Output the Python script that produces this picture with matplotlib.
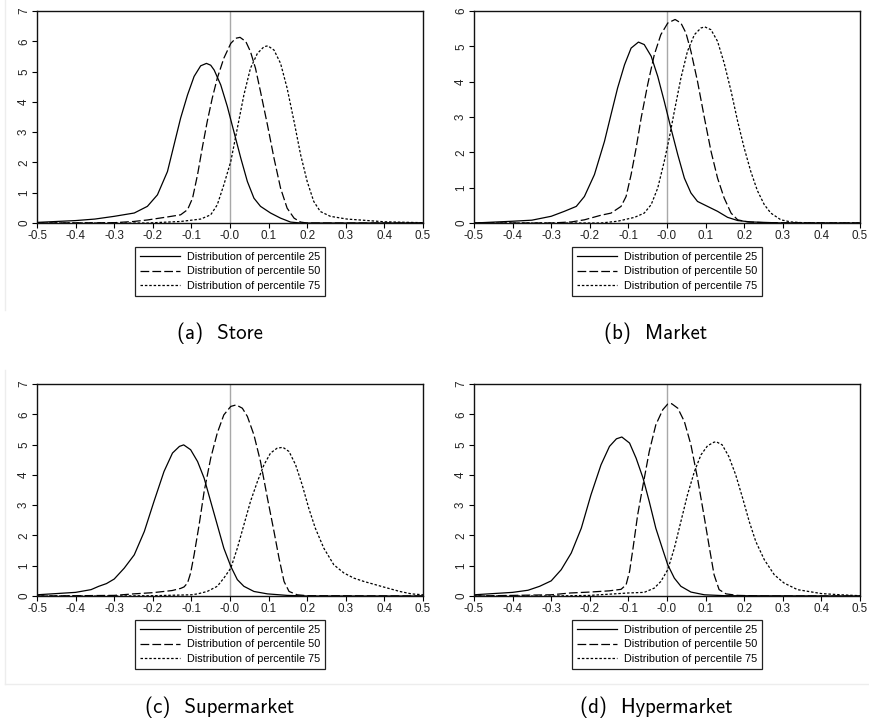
import matplotlib
matplotlib.use("Agg")
import matplotlib.pyplot as plt
from matplotlib.lines import Line2D
import numpy as np

# (a) Store
a_x25 = [-0.5, -0.4, -0.35, -0.3, -0.248, -0.214, -0.188, -0.162, -0.145, -0.128, -0.11, -0.093, -0.076, -0.061,
         -0.05, -0.041, -0.024, -0.007, 0.01, 0.028, 0.045, 0.062, 0.079, 0.105, 0.131, 0.157, 0.183, 0.25, 0.5]
a_y25 = [0.02, 0.08, 0.13, 0.22, 0.33, 0.55, 0.93, 1.7, 2.58, 3.46, 4.23, 4.84, 5.19, 5.27,
         5.21, 5.05, 4.56, 3.85, 3.02, 2.14, 1.37, 0.82, 0.55, 0.33, 0.16, 0.03, 0.0, 0.0, 0.0]
a_x50 = [-0.5, -0.3, -0.25, -0.214, -0.162, -0.128, -0.11, -0.097, -0.084, -0.072, -0.059, -0.046, -0.033, -0.016,
         0.002, 0.015, 0.026, 0.041, 0.053, 0.066, 0.079, 0.097, 0.114, 0.131, 0.148, 0.166, 0.183, 0.2, 0.5]
a_y50 = [0.0, 0.01, 0.05, 0.1, 0.2, 0.27, 0.44, 0.82, 1.6, 2.47, 3.35, 4.12, 4.78, 5.44,
         5.93, 6.1, 6.13, 5.99, 5.66, 5.11, 4.34, 3.24, 2.14, 1.15, 0.49, 0.16, 0.03, 0.0, 0.0]
a_x75 = [-0.5, -0.214, -0.128, -0.076, -0.05, -0.033, -0.016, 0.002, 0.019, 0.036, 0.053, 0.071, 0.088, 0.098,
         0.114, 0.131, 0.148, 0.166, 0.183, 0.2, 0.217, 0.234, 0.26, 0.303, 0.347, 0.4, 0.5]
a_y75 = [0.0, 0.0, 0.05, 0.13, 0.27, 0.6, 1.26, 2.03, 3.13, 4.23, 5.11, 5.6, 5.82, 5.85,
         5.71, 5.27, 4.45, 3.35, 2.25, 1.37, 0.71, 0.38, 0.22, 0.13, 0.09, 0.04, 0.01]

# (b) Market
b_x25 = [-0.5, -0.4, -0.35, -0.3, -0.266, -0.235, -0.214, -0.188, -0.162, -0.145, -0.128, -0.11, -0.093, -0.074,
         -0.059, -0.041, -0.024, -0.007, 0.01, 0.028, 0.045, 0.062, 0.079, 0.105, 0.131, 0.157, 0.183, 0.217, 0.3, 0.5]
b_y25 = [0.0, 0.05, 0.08, 0.19, 0.33, 0.47, 0.75, 1.37, 2.31, 3.07, 3.82, 4.48, 4.95, 5.12,
         5.05, 4.72, 4.15, 3.44, 2.69, 1.93, 1.27, 0.85, 0.61, 0.47, 0.33, 0.16, 0.07, 0.03, 0.0, 0.0]
b_x50 = [-0.5, -0.3, -0.248, -0.214, -0.171, -0.145, -0.119, -0.106, -0.093, -0.08, -0.067, -0.05, -0.033, -0.016,
         0.002, 0.021, 0.036, 0.049, 0.062, 0.079, 0.097, 0.114, 0.131, 0.148, 0.166, 0.183, 0.209, 0.25, 0.5]
b_y50 = [0.0, 0.0, 0.03, 0.09, 0.22, 0.28, 0.47, 0.75, 1.37, 2.12, 2.97, 3.92, 4.76, 5.33,
         5.66, 5.76, 5.66, 5.38, 4.86, 4.01, 2.97, 2.03, 1.27, 0.71, 0.28, 0.09, 0.03, 0.01, 0.0]
b_x75 = [-0.5, -0.171, -0.128, -0.084, -0.059, -0.041, -0.024, -0.007, 0.006, 0.019, 0.036, 0.053, 0.071, 0.088,
         0.098, 0.114, 0.131, 0.148, 0.166, 0.183, 0.2, 0.217, 0.234, 0.252, 0.269, 0.295, 0.321, 0.35, 0.4, 0.5]
b_y75 = [0.0, 0.0, 0.05, 0.16, 0.28, 0.52, 0.99, 1.75, 2.41, 3.16, 4.1, 4.86, 5.33, 5.52,
         5.55, 5.47, 5.14, 4.53, 3.73, 2.88, 2.12, 1.46, 0.92, 0.52, 0.28, 0.09, 0.03, 0.01, 0.0, 0.0]

# (c) Supermarket
c_x25 = [-0.5, -0.45, -0.4, -0.36, -0.34, -0.32, -0.3, -0.274, -0.248, -0.222, -0.197, -0.171, -0.149, -0.131,
         -0.12, -0.102, -0.084, -0.067, -0.05, -0.033, -0.016, 0.002, 0.019, 0.036, 0.062, 0.097, 0.148, 0.2, 0.5]
c_y25 = [0.04, 0.08, 0.12, 0.21, 0.32, 0.41, 0.56, 0.92, 1.36, 2.13, 3.12, 4.11, 4.72, 4.94,
         4.99, 4.83, 4.44, 3.89, 3.12, 2.35, 1.58, 0.98, 0.54, 0.32, 0.15, 0.07, 0.02, 0.0, 0.0]
c_x50 = [-0.5, -0.3, -0.25, -0.2, -0.15, -0.128, -0.119, -0.11, -0.102, -0.093, -0.08, -0.067, -0.05, -0.033,
         -0.016, 0.002, 0.016, 0.032, 0.045, 0.062, 0.079, 0.097, 0.114, 0.127, 0.14, 0.153, 0.174, 0.2, 0.5]
c_y50 = [0.0, 0.02, 0.07, 0.11, 0.18, 0.25, 0.3, 0.43, 0.76, 1.36, 2.35, 3.45, 4.55, 5.38,
         5.98, 6.26, 6.31, 6.2, 5.93, 5.32, 4.44, 3.23, 2.13, 1.25, 0.48, 0.15, 0.04, 0.01, 0.0]
c_x75 = [-0.5, -0.3, -0.2, -0.1, -0.084, -0.059, -0.033, -0.016, 0.002, 0.019, 0.036, 0.053, 0.071, 0.088,
         0.105, 0.122, 0.137, 0.153, 0.17, 0.187, 0.204, 0.221, 0.243, 0.269, 0.295, 0.321, 0.347, 0.4, 0.44, 0.47, 0.5]
c_y75 = [0.0, 0.0, 0.01, 0.04, 0.07, 0.15, 0.32, 0.59, 0.92, 1.58, 2.35, 3.12, 3.78, 4.33,
         4.72, 4.88, 4.91, 4.77, 4.33, 3.67, 2.9, 2.24, 1.58, 1.03, 0.76, 0.59, 0.48, 0.29, 0.15, 0.07, 0.04]

# (d) Hypermarket
d_x25 = [-0.5, -0.45, -0.4, -0.36, -0.33, -0.3, -0.274, -0.248, -0.222, -0.197, -0.171, -0.149, -0.131, -0.117,
         -0.097, -0.08, -0.062, -0.046, -0.029, -0.011, 0.002, 0.019, 0.036, 0.062, 0.097, 0.15, 0.5]
d_y25 = [0.04, 0.08, 0.12, 0.19, 0.32, 0.5, 0.87, 1.42, 2.24, 3.34, 4.33, 4.94, 5.19, 5.25,
         5.05, 4.55, 3.89, 3.12, 2.24, 1.53, 1.03, 0.59, 0.32, 0.13, 0.04, 0.01, 0.0]
d_x50 = [-0.5, -0.3, -0.25, -0.2, -0.15, -0.119, -0.106, -0.097, -0.088, -0.076, -0.062, -0.046, -0.029, -0.011,
         0.002, 0.012, 0.028, 0.045, 0.062, 0.079, 0.097, 0.11, 0.122, 0.135, 0.153, 0.183, 0.25, 0.5]
d_y50 = [0.0, 0.04, 0.1, 0.13, 0.17, 0.22, 0.37, 0.81, 1.58, 2.68, 3.67, 4.77, 5.65, 6.15,
         6.34, 6.35, 6.2, 5.76, 4.99, 3.89, 2.57, 1.58, 0.7, 0.21, 0.07, 0.02, 0.0, 0.0]
d_x75 = [-0.5, -0.3, -0.2, -0.1, -0.059, -0.033, -0.016, 0.002, 0.019, 0.036, 0.053, 0.071, 0.088, 0.105,
         0.122, 0.128, 0.143, 0.16, 0.178, 0.196, 0.213, 0.23, 0.252, 0.278, 0.303, 0.338, 0.4, 0.45, 0.5]
d_y75 = [0.0, 0.0, 0.02, 0.1, 0.12, 0.26, 0.48, 0.87, 1.58, 2.46, 3.34, 4.11, 4.66, 4.96,
         5.08, 5.09, 4.99, 4.61, 4.0, 3.23, 2.46, 1.8, 1.2, 0.7, 0.43, 0.21, 0.08, 0.04, 0.01]

captions = ["(a)  Store", "(b)  Market", "(c)  Supermarket", "(d)  Hypermarket"]
ymax = [7, 6, 7, 7]
labels = ["Distribution of percentile 25", "Distribution of percentile 50", "Distribution of percentile 75"]
xticks = np.arange(-0.5, 0.51, 0.1)

panels = [
    [(a_x25, a_y25), (a_x50, a_y50), (a_x75, a_y75)],
    [(b_x25, b_y25), (b_x50, b_y50), (b_x75, b_y75)],
    [(c_x25, c_y25), (c_x50, c_y50), (c_x75, c_y75)],
    [(d_x25, d_y25), (d_x50, d_y50), (d_x75, d_y75)],
]

W, H = 870, 723
fig = plt.figure(figsize=(W / 100, H / 100), dpi=100)

# axes boxes in pixels: left, top, right, bottom
boxes = [(37, 11, 423, 223), (474, 11, 860, 223), (37, 384, 423, 596), (474, 384, 860, 596)]
cap_pos = [(220, 333), (656, 333), (220, 707), (656, 707)]
styles = ["-", (0, (7, 2.5)), (0, (2, 1.5))]

tickfont = "Liberation Sans"

for i, curves in enumerate(panels):
    l, t, r, b = boxes[i]
    ax = fig.add_axes([l / W, 1 - b / H, (r - l) / W, (b - t) / H])
    ax.axvline(0, color="#a8a8a8", lw=1.0, zorder=1)
    for j, (xs, ys) in enumerate(curves):
        ax.plot(xs, ys, color="black", lw=0.9, linestyle=styles[j], label=labels[j], zorder=2)
    ax.set_xlim(-0.5, 0.5)
    ax.set_ylim(0, ymax[i])
    ax.set_xticks(xticks)
    ax.set_xticklabels(["%.1f" % v for v in xticks], family=tickfont, fontsize=8.4, color="#222222")
    ax.set_yticks(range(ymax[i] + 1))
    ax.set_yticklabels([str(v) for v in range(ymax[i] + 1)], family=tickfont, fontsize=8.4,
                       rotation=90, va="center", color="#222222")
    ax.tick_params(direction="out", length=3.5, width=0.8, pad=1.5)
    for s in ax.spines.values():
        s.set_linewidth(1.0)
        s.set_color("#111111")
    leg = ax.legend(loc="upper center", bbox_to_anchor=(0.5, -0.113), borderaxespad=0,
                    prop={"family": tickfont, "size": 7.8}, handlelength=3.7, handletextpad=0.65,
                    borderpad=0.45, labelspacing=0.43, fancybox=False, framealpha=1)
    leg.get_frame().set_edgecolor("#222222")
    leg.get_frame().set_linewidth(0.9)
    cx, cy = cap_pos[i]
    fig.text(cx / W, 1 - cy / H, captions[i], ha="center", va="center", family="cmss10", fontsize=15)

# faint borders of the source images
fig.add_artist(Line2D([5 / W, 5 / W], [1 - 0 / H, 1 - 310 / H], color="#ededed", lw=1))
fig.add_artist(Line2D([5 / W, 5 / W], [1 - 370 / H, 1 - 684 / H], color="#ededed", lw=1))
fig.add_artist(Line2D([5 / W, 1.0], [1 - 684 / H, 1 - 684 / H], color="#ededed", lw=1))

plt.savefig("out.png", dpi=100)
